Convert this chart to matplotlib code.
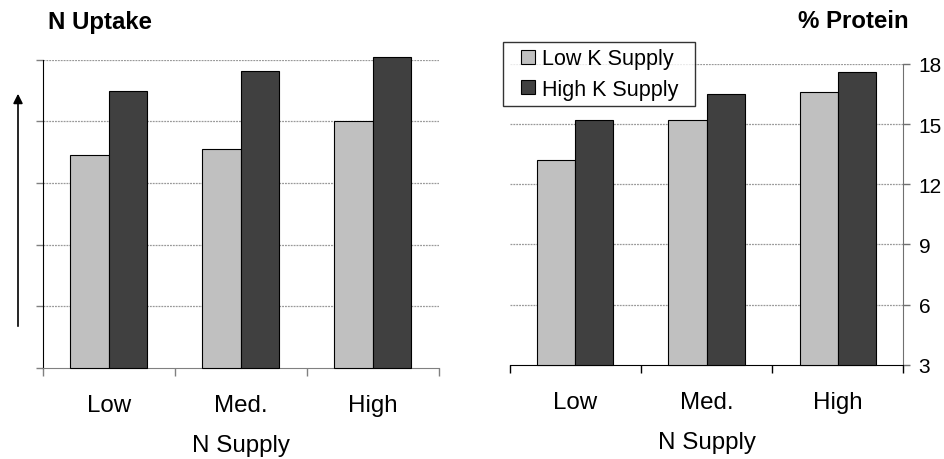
import matplotlib
matplotlib.use("Agg")
import matplotlib.pyplot as plt
from matplotlib.lines import Line2D
import numpy as np

plt.rcParams['font.family'] = ['Liberation Sans', 'DejaVu Sans']

categories = ["Low", "Med.", "High"]
series_names = ["Low K Supply", "High K Supply"]
uptake_lowK = [13.35, 13.65, 15.0]
uptake_highK = [16.5, 17.45, 18.15]
protein_lowK = [13.2, 15.2, 16.6]
protein_highK = [15.2, 16.5, 17.6]
yticks = [3, 6, 9, 12, 15, 18]

light = "#C0C0C0"
dark = "#404040"
grid_c = "#999999"

fig = plt.figure(figsize=(9.45, 4.6), dpi=100)
axL = fig.add_axes([0.0452, 0.1985, 0.419, 0.669])
axR = fig.add_axes([0.5394, 0.205, 0.4165, 0.6537])

x = np.arange(len(categories))
w = 0.29

def style(ax, lowK, highK, right):
    ax.bar(x - w / 2, np.array(lowK) - 3, w, bottom=3, color=light, edgecolor="black",
           linewidth=0.8, clip_on=False, zorder=3)
    ax.bar(x + w / 2, np.array(highK) - 3, w, bottom=3, color=dark, edgecolor="black",
           linewidth=0.8, clip_on=False, zorder=3)
    ax.set_xlim(-0.5, 2.5)
    ax.set_ylim(3, 18)
    ax.set_yticks(yticks)
    for yv in yticks[1:]:
        ax.axhline(yv, color=grid_c, linewidth=0.9, linestyle=(0, (1.5, 0.8)), zorder=1)
    ax.set_xticks(x)
    ax.set_xticklabels(categories, fontsize=17.4)
    ax.tick_params(axis="x", which="major", length=0, pad=19)
    ax.set_xticks([-0.5, 0.5, 1.5, 2.5], minor=True)
    ax.spines["top"].set_visible(False)
    ax.set_xlabel("N Supply", fontsize=17.4, labelpad=13)
    if right:
        ax.spines["left"].set_visible(False)
        ax.spines["right"].set_color("#707070")
        ax.spines["bottom"].set_color("black")
        ax.tick_params(axis="x", which="minor", length=6, width=1, direction="out", color="black")
        ax.yaxis.tick_right()
        ax.tick_params(axis="y", length=5, width=1, color="#707070", pad=6, labelsize=15)
    else:
        ax.spines["right"].set_visible(False)
        ax.spines["left"].set_color("black")
        ax.spines["bottom"].set_color("#808080")
        ax.tick_params(axis="x", which="minor", length=6, width=1, direction="out", color="#808080")
        ax.tick_params(axis="y", length=5, width=1, color="#808080", labelleft=False)

style(axL, uptake_lowK, uptake_highK, False)
style(axR, protein_lowK, protein_highK, True)

fig.text(47.7 / 945, 1 - 22 / 460, "N Uptake", fontsize=17.3, fontweight="bold", ha="left", va="center")
fig.text(908.7 / 945, 1 - 22 / 460, "% Protein", fontsize=17.3, fontweight="bold", ha="right", va="center")

handles = [Line2D([], [], linestyle="none", marker="s", markersize=9.5, markerfacecolor=c,
                  markeredgecolor="black", markeredgewidth=0.8) for c in (light, dark)]
leg = axR.legend(handles=handles, labels=series_names, loc="upper left",
                 bbox_to_anchor=(503 / 945, 1 - 107.3 / 460, 192 / 945, 64.6 / 460),
                 bbox_transform=fig.transFigure, mode="expand", fontsize=15.5, frameon=True,
                 fancybox=False, handlelength=1.72, handletextpad=-0.2, borderpad=0.3,
                 labelspacing=0.45, borderaxespad=0)
leg.get_frame().set_edgecolor("black")
leg.get_frame().set_linewidth(1.0)

fig.add_artist(matplotlib.patches.FancyArrowPatch((18 / 945, 1 - 330 / 460), (18 / 945, 1 - 92 / 460),
                                                   transform=fig.transFigure, arrowstyle="-|>",
                                                   mutation_scale=14, color="black", linewidth=1.2))

fig.savefig("out.png", dpi=100)
